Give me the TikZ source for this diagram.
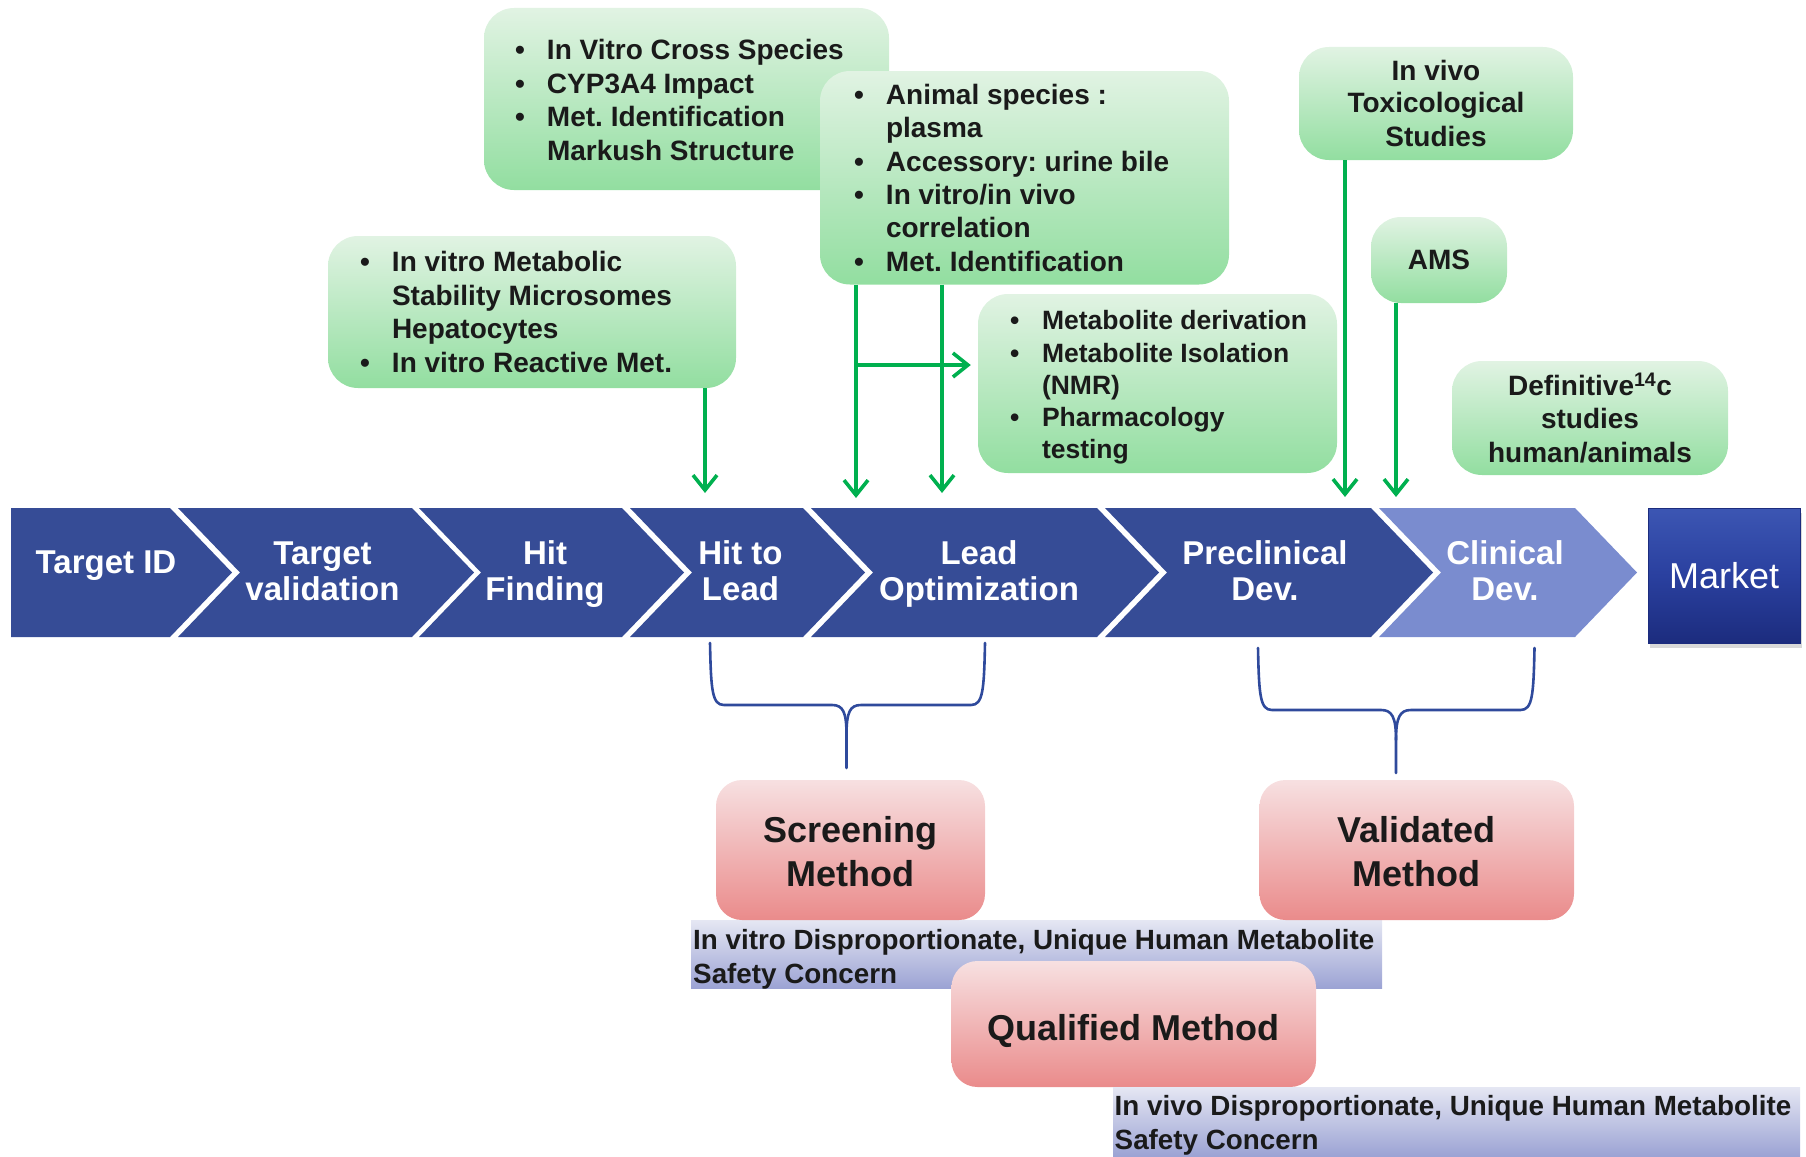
\documentclass[tikz,border=0pt]{standalone}
\usepackage{fontspec}
\setmainfont{Liberation Sans}
\usetikzlibrary{arrows.meta,shadows,calc}

\definecolor{chevblue}{HTML}{364C96}
\definecolor{chevlight}{HTML}{7A8CCF}
\definecolor{gtop}{HTML}{E1F3E3}
\definecolor{gbot}{HTML}{92DEA0}
\definecolor{rtop}{HTML}{F7E0E1}
\definecolor{rbot}{HTML}{EA8B8B}
\definecolor{btop}{HTML}{E5E7F3}
\definecolor{bbot}{HTML}{9CA3D4}
\definecolor{agreen}{HTML}{00B04F}
\definecolor{braceblue}{HTML}{2F4A9C}
\definecolor{mtop}{HTML}{3C56B3}
\definecolor{mmid}{HTML}{2A409F}
\definecolor{mbot}{HTML}{1C2C7E}
\definecolor{ink}{HTML}{1A1A1A}

\newcommand\bul{\makebox[32pt][l]{•}}
\newcommand\ind{\hspace*{32pt}}
\frenchspacing

\begin{document}
\begin{tikzpicture}[x=1pt,y=-1pt,
  chev/.style={fill=chevblue},
  ctext/.style={text=white,font=\frenchspacing\bfseries\fontsize{33}{35.5}\selectfont,align=center,inner sep=0,anchor=base},
  gbox/.style={rounded corners=30pt,top color=gtop,bottom color=gbot,inner sep=0,draw=none},
  gtext/.style={text=ink,font=\frenchspacing\bfseries\fontsize{28}{33.4}\selectfont,align=left,inner sep=0,anchor=west},
  gctext/.style={gbox,text=ink,font=\frenchspacing\bfseries\fontsize{28}{33.4}\selectfont,align=center},
  rbox/.style={rounded corners=26pt,top color=rtop,bottom color=rbot,inner sep=0,text=ink,font=\bfseries\fontsize{36}{43.3}\selectfont,align=center},
  band/.style={top color=btop,bottom color=bbot,inner sep=0},
  btext/.style={text=ink,font=\frenchspacing\bfseries\fontsize{27.8}{34}\selectfont,align=left,inner sep=0,anchor=base west},
  garrow/.style={draw=agreen,line width=3.6pt,-{Straight Barb[length=15pt,width=24pt]}},
  bracepath/.style={draw=braceblue,line width=2.6pt,line join=round,line cap=round},
  market/.style={minimum width=152pt,minimum height=135pt,inner sep=0,top color=mtop,bottom color=mbot,middle color=mmid,draw=mbot,line width=1pt,text=white,font=\fontsize{36}{40}\selectfont,drop shadow={shadow xshift=2pt,shadow yshift=-5pt,opacity=0.3}}
]
\useasboundingbox (0,0) rectangle (1806,1156);

% ---- chevron band ----
\fill[chev] (11,508) -- (170,508) -- (232,572.5) -- (170,637) -- (11,637) -- cycle;
\fill[chev] (178,508) -- (412,508) -- (474,572.5) -- (412,637) -- (178,637) -- (240,572.5) -- cycle;
\fill[chev] (419,508) -- (622,508) -- (684,572.5) -- (622,637) -- (419,637) -- (481,572.5) -- cycle;
\fill[chev] (630,508) -- (803,508) -- (865,572.5) -- (803,637) -- (630,637) -- (692,572.5) -- cycle;
\fill[chev] (811,508) -- (1097,508) -- (1159,572.5) -- (1097,637) -- (811,637) -- (873,572.5) -- cycle;
\fill[chev] (1105,508) -- (1371,508) -- (1433,572.5) -- (1371,637) -- (1105,637) -- (1167,572.5) -- cycle;
\fill[chevlight] (1379,508) -- (1575,508) -- (1637,572.5) -- (1575,637) -- (1379,637) -- (1441,572.5) -- cycle;

\node[ctext] (t1) at (106,573) {Target ID};
\node[ctext] (t2) at (322.5,600) {Target\\validation};
\node[ctext] (t3) at (545,600) {Hit\\Finding};
\node[ctext] (t4) at (740.5,600) {Hit to\\Lead};
\node[ctext] (t5) at (979,600) {Lead\\Optimization};
\node[ctext] (t6) at (1265,600) {Preclinical\\Dev.};
\node[ctext] (t7) at (1505,600) {Clinical\\Dev.};

\node[market] (market) at (1724,575.5) {Market};

% ---- green boxes ----
\node[gbox,minimum width=405pt,minimum height=182pt] (gA) at (686.5,99) {};
\node[gtext] (tA) at ([xshift=31pt,yshift=-1pt]gA.west) {\bul In Vitro Cross Species\\\bul CYP3A4 Impact\\\bul Met. Identification\\\ind Markush Structure};

\node[gbox,minimum width=409pt,minimum height=213.5pt] (gB) at (1024.5,177.75) {};
\node[gtext] (tB) at ([xshift=34pt]gB.west) {\bul Animal species :\\\ind plasma\\\bul Accessory: urine bile\\\bul In vitro/in vivo\\\ind correlation\\\bul Met. Identification};

\node[gbox,minimum width=408pt,minimum height=152pt] (gC) at (532,312) {};
\node[gtext] (tC) at ([xshift=32pt]gC.west) {\bul In vitro Metabolic\\\ind Stability Microsomes\\\ind Hepatocytes\\\bul In vitro Reactive Met.};

\node[gbox,minimum width=359pt,minimum height=179pt] (gD) at (1157.5,383.5) {};
\node[gtext,font=\frenchspacing\bfseries\fontsize{26.5}{32.2}\selectfont] (tD) at ([xshift=32pt,yshift=-4pt]gD.west) {\bul Metabolite derivation\\\bul Metabolite Isolation\\\ind (NMR)\\\bul Pharmacology\\\ind testing};

\node[gctext,minimum width=274pt,minimum height=113pt] (gE) at (1436,103.5) {\raisebox{-1.5pt}{In vivo}\\Toxicological\\Studies};
\node[gctext,minimum width=136pt,minimum height=86pt] (gF) at (1439,260) {AMS};
\node[gctext,minimum width=276pt,minimum height=114pt] (gG) at (1590,418) {Definitive\textsuperscript{14}c\\studies\\human/animals};

% ---- green arrows ----
\coordinate (e1) at (705,493);
\coordinate (e2) at (856,498);
\coordinate (e3) at (942,493);
\coordinate (j4) at (856,365);
\coordinate (e5) at (1345,497);
\coordinate (e6) at (1396,497);
\draw[garrow] (e1 |- gC.south) -- (e1);
\draw[garrow] (e2 |- gB.south) -- (e2);
\draw[garrow] (e3 |- gB.south) -- (e3);
\draw[garrow,shorten >=7pt] (j4) -- (j4 -| gD.west);
\draw[garrow] (e5 |- gE.south) -- (e5);
\draw[garrow] (e6 |- gF.south) -- (e6);

% ---- braces ----
\draw[bracepath] (710,643) .. controls (711,690) and (712,705) .. (724,705) -- (832,705) .. controls (843,705) and (846.5,712) .. (846.5,735) -- (846.5,768);
\draw[bracepath] (985,643) .. controls (984,690) and (983,705) .. (971,705) -- (861,705) .. controls (850,705) and (846.5,712) .. (846.5,735);
\draw[bracepath] (1258,648) .. controls (1259,695) and (1260,710) .. (1272,710) -- (1381,710) .. controls (1392,710) and (1396,717) .. (1396,740) -- (1396,773);
\draw[bracepath] (1534.5,648) .. controls (1533.5,695) and (1532.5,710) .. (1520.5,710) -- (1411,710) .. controls (1400,710) and (1396,717) .. (1396,740);

% ---- method boxes and bands ----
\node[band,minimum width=691pt,minimum height=68pt] (b1) at (1036.5,954) {};
\node[btext] (b1t) at (693,983) {In vitro Disproportionate, Unique Human Metabolite\\Safety Concern};

\node[rbox,minimum width=269pt,minimum height=140pt] (rS) at (850.5,850) {\raisebox{-3pt}[\height][\depth]{Screening}\\\raisebox{-3pt}{Method}};
\node[rbox,minimum width=314.5pt,minimum height=140pt] (rV) at (1416.75,850) {\raisebox{-3pt}[\height][\depth]{Validated}\\\raisebox{-3pt}{Method}};
\node[rbox,minimum width=364.5pt,minimum height=126pt] (rQ) at (1133.75,1024) {\raisebox{-7pt}[\height][\depth]{Qualified Method}};

\node[band,minimum width=687pt,minimum height=69pt] (b2) at (1456.5,1121.5) {};
\node[btext] (b2t) at (1114.5,1149) {In vivo Disproportionate, Unique Human Metabolite\\Safety Concern};
\end{tikzpicture}
\end{document}
